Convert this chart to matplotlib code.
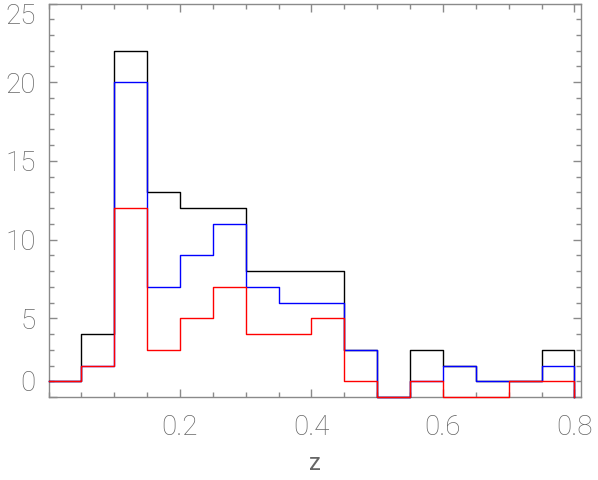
import numpy as np
import matplotlib.pyplot as plt
from matplotlib.ticker import MultipleLocator

# bin edges of the redshift histogram (width 0.05)
edges = np.arange(0.0, 0.80001, 0.05)

# counts per bin
n_all = [1, 4, 22, 13, 12, 12, 8, 8, 8, 3, 0, 3, 2, 1, 1, 3]
n_blue = [1, 2, 20, 7, 9, 11, 7, 6, 6, 3, 0, 1, 2, 1, 1, 2]
n_red = [1, 2, 12, 3, 5, 7, 4, 4, 5, 1, 0, 1, 0, 0, 1, 1]

xticks = [0.2, 0.4, 0.6, 0.8]
yticks = [0, 5, 10, 15, 20, 25]

plt.rcParams['font.family'] = ['Roboto', 'DejaVu Sans']
plt.rcParams['font.weight'] = 'light'

fig = plt.figure(figsize=(5.98, 4.8), dpi=100)
ax = fig.add_axes([48.5/598, 1 - 397/480, (581 - 48.5)/598, (397 - 3.5)/480])

for counts, col in [(n_all, 'black'), (n_blue, '#0000ff'), (n_red, '#ff0000')]:
    ax.step(edges, np.append(counts, 0), where='post', color=col, lw=1.0,
            clip_on=False, zorder=3)

ax.set_xlim(0, 0.81)
ax.set_ylim(0, 25)

ax.set_xticks(xticks)
ax.set_xticklabels([f"{t:.1f}" for t in xticks])
ax.xaxis.set_minor_locator(MultipleLocator(0.05))
ax.set_yticks(yticks)
ax.yaxis.set_minor_locator(MultipleLocator(1))

axcol = '#8a8a8a'
for s in ax.spines.values():
    s.set_color(axcol)
    s.set_linewidth(1.0)

ax.tick_params(which='both', direction='in', top=True, right=True,
               color=axcol, width=1.0, labelcolor='#666666', labelsize=20)
ax.tick_params(which='major', length=6)
ax.tick_params(which='minor', length=3.5)
ax.tick_params(axis='x', pad=12)
ax.tick_params(axis='y', pad=9)

# like IDL, keep the end labels of the y axis inside the axis range
ylabs = ax.get_yticklabels()
ylabs[0].set_va('bottom')
ylabs[-1].set_va('top')

ax.set_xlabel("z", fontsize=17, color='#666666', labelpad=8)

fig.savefig("out.png", dpi=100)
